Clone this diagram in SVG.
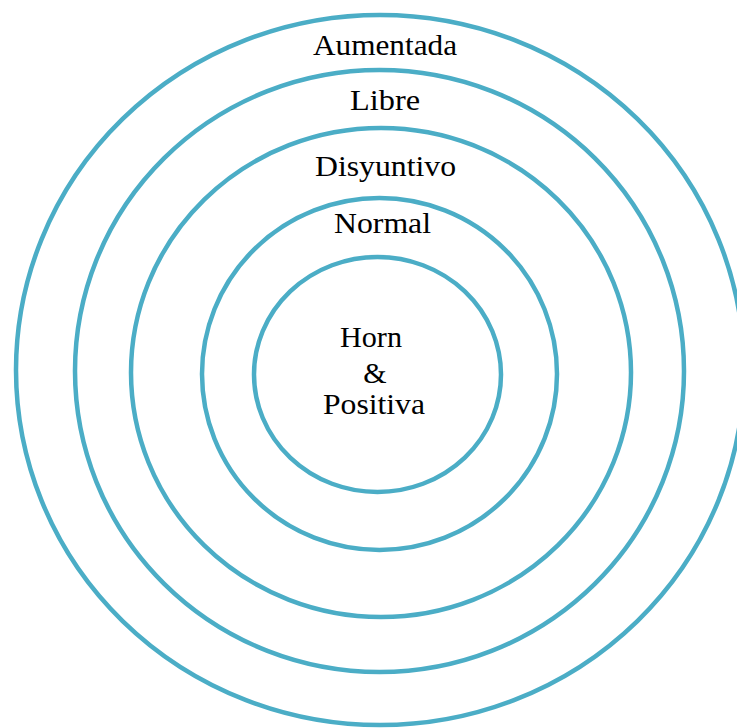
<svg xmlns="http://www.w3.org/2000/svg" width="737" height="728" viewBox="0 0 737 728">
<style>
.ring{fill:none;stroke:#4BADC6;stroke-width:4.5}
.lbl{font-family:"Liberation Serif","Times New Roman",serif;font-size:30px;fill:#000;text-anchor:middle}
</style>
<rect width="737" height="728" fill="#fff"/>
<g id="aumentada"><ellipse class="ring" cx="380" cy="370" rx="364" ry="355"/><text class="lbl" x="385" y="55" textLength="144" lengthAdjust="spacingAndGlyphs">Aumentada</text></g>
<g id="libre"><ellipse class="ring" cx="379.5" cy="371" rx="304.5" ry="301"/><text class="lbl" x="385" y="110" textLength="70" lengthAdjust="spacingAndGlyphs">Libre</text></g>
<g id="disyuntivo"><ellipse class="ring" cx="381" cy="372.5" rx="250" ry="244.5"/><text class="lbl" x="385.5" y="176" textLength="141" lengthAdjust="spacingAndGlyphs">Disyuntivo</text></g>
<g id="normal"><ellipse class="ring" cx="379.5" cy="374" rx="177.5" ry="176"/><text class="lbl" x="382.5" y="233" textLength="97" lengthAdjust="spacingAndGlyphs">Normal</text></g>
<g id="horn"><ellipse class="ring" cx="377.5" cy="374.5" rx="123.5" ry="117.5"/><text class="lbl" x="371" y="347" textLength="62" lengthAdjust="spacingAndGlyphs">Horn</text><text class="lbl" x="375" y="383">&amp;</text><text class="lbl" x="374" y="414" textLength="102" lengthAdjust="spacingAndGlyphs">Positiva</text></g>
<g id="connectors"/>
</svg>
